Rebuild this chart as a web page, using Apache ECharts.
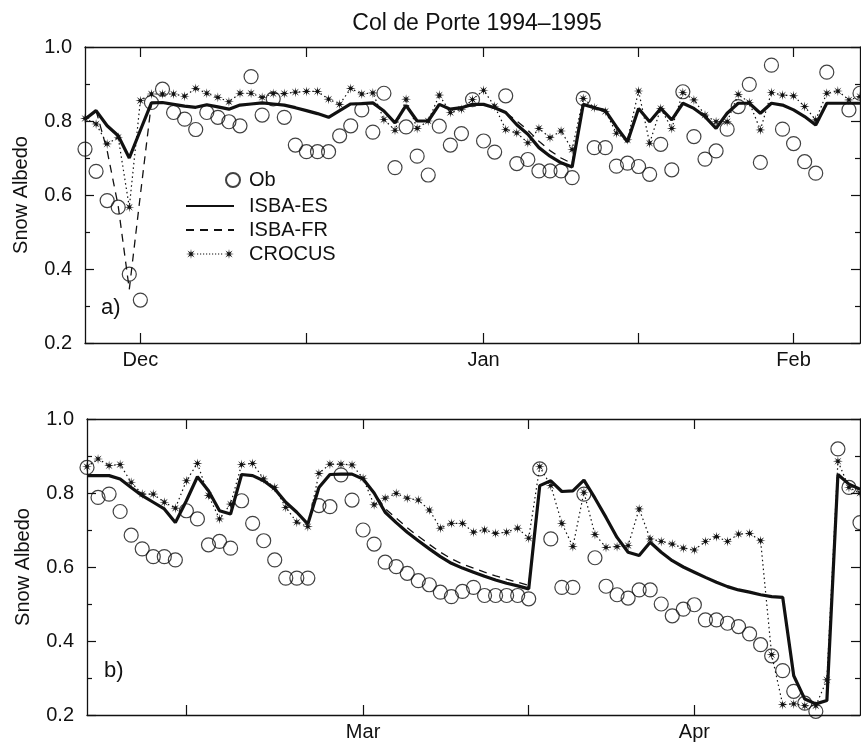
<!DOCTYPE html>
<html>
<head>
<meta charset="utf-8">
<script src="https://cdn.jsdelivr.net/npm/echarts@6/dist/echarts.min.js"></script>
<style>
  html, body { margin: 0; padding: 0; background: #fff; }
  #chart { width: 861px; height: 744px; }
</style>
</head>
<body>
<div id="chart"></div>
<script>
// x is a day index (one observation per day), 0 = left edge of each panel
// panel a) late Nov 1994 - early Feb 1995
const tickA = [5, 20, 36, 50, 64];
const labelPosA = [5, 36, 64];
const labelTextA = ['Dec', 'Jan', 'Feb'];

const obsA = [0.724, 0.664, 0.585, 0.567, 0.386, 0.316, 0.85, 0.886, 0.823, 0.805,
  0.777, 0.823, 0.81, 0.798, 0.787, 0.92, 0.816, 0.86, 0.81, 0.735,
  0.717, 0.717, 0.717, 0.76, 0.787, 0.83, 0.77, 0.875, 0.674, 0.784,
  0.705, 0.654, 0.786, 0.735, 0.766, 0.858, 0.746, 0.716, 0.868, 0.685,
  0.696, 0.665, 0.665, 0.665, 0.647, 0.861, 0.728, 0.728, 0.678, 0.686,
  0.677, 0.656, 0.737, 0.668, 0.879, 0.758, 0.697, 0.719, 0.778, 0.839,
  0.899, 0.688, 0.951, 0.778, 0.739, 0.69, 0.659, 0.932, null, 0.83, 0.875];

const esA = [0.805, 0.828, 0.787, 0.76, 0.70, 0.775, 0.849, 0.85, 0.845, 0.84,
  0.837, 0.844, 0.838, 0.832, 0.843, 0.846, 0.849, 0.846, 0.843, 0.836,
  0.828, 0.82, 0.81, 0.828, 0.846, 0.847, 0.849, 0.827, 0.795, 0.842,
  0.80, 0.80, 0.845, 0.832, 0.836, 0.845, 0.845, 0.836, 0.823, 0.79,
  0.764, 0.728, 0.705, 0.687, 0.676, 0.845, 0.836, 0.828, 0.784, 0.744,
  0.834, 0.798, 0.834, 0.803, 0.848, 0.834, 0.812, 0.78, 0.821, 0.848,
  0.848, 0.821, 0.848, 0.843, 0.83, 0.812, 0.789, 0.848, 0.848, 0.848, 0.848];

const frA = [0.805, 0.828, 0.72, 0.57, 0.345, 0.60, 0.849, 0.85, 0.845, 0.84,
  0.837, 0.844, 0.838, 0.832, 0.843, 0.846, 0.849, 0.846, 0.843, 0.836,
  0.828, 0.82, 0.81, 0.828, 0.846, 0.847, 0.849, 0.827, 0.795, 0.842,
  0.80, 0.80, 0.845, 0.832, 0.836, 0.845, 0.845, 0.836, 0.823, 0.80,
  0.775, 0.745, 0.72, 0.70, 0.685, 0.845, 0.836, 0.828, 0.784, 0.744,
  0.834, 0.798, 0.834, 0.803, 0.848, 0.834, 0.812, 0.78, 0.821, 0.848,
  0.848, 0.821, 0.848, 0.843, 0.83, 0.812, 0.789, 0.848, 0.848, 0.848, 0.848];

const crA = [0.807, 0.792, 0.738, 0.756, 0.567, 0.855, 0.873, 0.873, 0.873, 0.867,
  0.888, 0.875, 0.864, 0.852, 0.875, 0.875, 0.864, 0.874, 0.874, 0.878,
  0.88, 0.88, 0.859, 0.845, 0.888, 0.873, 0.876, 0.804, 0.775, 0.859,
  0.78, 0.80, 0.87, 0.823, 0.832, 0.858, 0.883, 0.84, 0.777, 0.768,
  0.741, 0.78, 0.755, 0.773, 0.723, 0.861, 0.836, 0.826, 0.767, 0.749,
  0.881, 0.74, 0.834, 0.78, 0.877, 0.857, 0.816, 0.798, 0.798, 0.872,
  0.85, 0.776, 0.877, 0.87, 0.868, 0.839, 0.803, 0.875, 0.881, 0.857, 0.866];

// panel b) early Feb - mid Apr 1995
const tickB = [9, 25, 40, 55];
const labelPosB = [25, 55];
const labelTextB = ['Mar', 'Apr'];

const obsB = [0.869, 0.788, 0.797, 0.75, 0.686, 0.649, 0.628, 0.628, 0.619, 0.752,
  0.73, 0.66, 0.669, 0.651, 0.779, 0.718, 0.671, 0.619, 0.57, 0.57,
  0.57, 0.766, 0.763, 0.849, 0.781, 0.70, 0.662, 0.613, 0.601, 0.583,
  0.563, 0.552, 0.532, 0.52, 0.534, 0.545, 0.523, 0.523, 0.523, 0.523,
  0.514, 0.865, 0.676, 0.545, 0.545, 0.797, 0.625, 0.548, 0.525, 0.516,
  0.538, 0.538, 0.50, 0.468, 0.486, 0.498, 0.457, 0.457, 0.448, 0.439,
  0.419, 0.39, 0.36, 0.32, 0.264, 0.232, 0.21, null, 0.919, 0.815, 0.72];

const esB = [0.847, 0.847, 0.847, 0.838, 0.815, 0.793, 0.775, 0.757, 0.72, 0.779,
  0.844, 0.806, 0.752, 0.743, 0.85, 0.847, 0.833, 0.811, 0.775, 0.748,
  0.716, 0.815, 0.85, 0.851, 0.851, 0.838, 0.80, 0.748, 0.72, 0.694,
  0.671, 0.649, 0.628, 0.61, 0.597, 0.586, 0.575, 0.565, 0.556, 0.549,
  0.541, 0.82, 0.833, 0.804, 0.806, 0.835, 0.786, 0.734, 0.68, 0.64,
  0.631, 0.667, 0.64, 0.617, 0.60, 0.586, 0.572, 0.559, 0.547, 0.538,
  0.532, 0.525, 0.52, 0.518, 0.306, 0.243, 0.23, 0.239, 0.85, 0.824, 0.81];

const frB = [0.847, 0.847, 0.847, 0.838, 0.815, 0.793, 0.775, 0.757, 0.72, 0.779,
  0.844, 0.806, 0.752, 0.743, 0.85, 0.847, 0.833, 0.811, 0.775, 0.748,
  0.716, 0.815, 0.85, 0.851, 0.851, 0.838, 0.80, 0.758, 0.732, 0.706,
  0.683, 0.661, 0.64, 0.622, 0.608, 0.597, 0.586, 0.576, 0.567, 0.559,
  0.55, 0.82, 0.833, 0.804, 0.806, 0.835, 0.786, 0.734, 0.68, 0.64,
  0.631, 0.667, 0.64, 0.617, 0.60, 0.586, 0.572, 0.559, 0.547, 0.538,
  0.532, 0.525, 0.52, 0.518, 0.306, 0.243, 0.23, 0.239, 0.85, 0.824, 0.81];

const crB = [0.871, 0.892, 0.874, 0.877, 0.829, 0.797, 0.797, 0.775, 0.759, 0.833,
  0.88, 0.793, 0.73, 0.77, 0.877, 0.88, 0.838, 0.815, 0.761, 0.721,
  0.709, 0.853, 0.878, 0.878, 0.876, 0.84, 0.768, 0.786, 0.799, 0.786,
  0.781, 0.754, 0.705, 0.718, 0.718, 0.694, 0.70, 0.691, 0.694, 0.705,
  0.678, 0.871, 0.82, 0.718, 0.655, 0.802, 0.688, 0.653, 0.655, 0.658,
  0.757, 0.676, 0.669, 0.662, 0.651, 0.646, 0.669, 0.682, 0.669, 0.689,
  0.691, 0.671, 0.363, 0.228, 0.23, 0.225, 0.225, 0.295, 0.886, 0.815, 0.80];

const FONT = 'Liberation Sans';
const BLACK = '#111';

// asterisk-like star path around (cx, cy)
function starPath(cx, cy, R, r) {
  let d = '';
  for (let k = 0; k < 16; k++) {
    const a = Math.PI * k / 8;
    const rad = k % 2 ? r : R;
    d += (k ? 'L' : 'M') + (cx + rad * Math.sin(a)).toFixed(2) + ' ' + (cy - rad * Math.cos(a)).toFixed(2);
  }
  return d + 'Z';
}
const STAR = 'path://' + starPath(10, 10, 10, 3);

// legend icon for CROCUS: star . . . . star
function crocusIcon() {
  let d = starPath(5, 7, 5, 1.5) + starPath(43, 7, 5, 1.5);
  for (let x = 11; x <= 37; x += 3) {
    d += 'M' + x + ' 6.4L' + (x + 1.2) + ' 6.4L' + (x + 1.2) + ' 7.6L' + x + ' 7.6Z';
  }
  return 'path://' + d;
}

const toLine = arr => arr.map((v, i) => [i, v]);
const toPts = arr => arr.map((v, i) => [i, v]).filter(p => p[1] != null);

function xAxes(grid, ticks, labelPos, labelText) {
  const base = {
    type: 'value', gridIndex: grid, min: 0, max: 70,
    axisLine: { show: true, onZero: false, lineStyle: { color: BLACK, width: 1.3 } },
    axisTick: { show: true, inside: true, length: 10, customValues: ticks, lineStyle: { color: BLACK, width: 1.2 } },
    splitLine: { show: false }
  };
  return [
    Object.assign({}, base, {
      position: 'bottom',
      axisLabel: {
        customValues: labelPos, margin: 7, color: BLACK, fontFamily: FONT, fontSize: 20,
        formatter: v => labelText[labelPos.indexOf(v)]
      }
    }),
    Object.assign({}, base, { position: 'top', axisLabel: { show: false } })
  ];
}

function yAxes(grid) {
  const base = {
    type: 'value', gridIndex: grid, min: 0.2, max: 1.0, interval: 0.2,
    axisLine: { show: true, onZero: false, lineStyle: { color: BLACK, width: 1.3 } },
    axisTick: { show: true, inside: true, length: 9, lineStyle: { color: BLACK, width: 1.2 } },
    minorTick: { show: true, splitNumber: 2, length: 5, lineStyle: { color: BLACK, width: 1.2 } },
    splitLine: { show: false }
  };
  return [
    Object.assign({}, base, {
      position: 'left',
      name: 'Snow Albedo', nameLocation: 'middle', nameRotate: 90, nameGap: 54,
      nameTextStyle: { color: BLACK, fontFamily: FONT, fontSize: 20 },
      axisLabel: { margin: 13, color: BLACK, fontFamily: FONT, fontSize: 20, formatter: v => v.toFixed(1) }
    }),
    Object.assign({}, base, { position: 'right', axisLabel: { show: false } })
  ];
}

function panelSeries(xi, yi, obs, es, fr, cr) {
  return [
    {
      name: 'Ob', type: 'scatter', xAxisIndex: xi, yAxisIndex: yi, data: toPts(obs),
      symbol: 'circle', symbolSize: 14, z: 5,
      itemStyle: { color: 'rgba(0,0,0,0)', borderColor: BLACK, borderWidth: 1.2 }
    },
    {
      name: 'ISBA-ES', type: 'line', xAxisIndex: xi, yAxisIndex: yi, data: toLine(es),
      symbol: 'none', z: 4, lineStyle: { color: BLACK, width: 3.2 }, itemStyle: { color: BLACK }
    },
    {
      name: 'ISBA-FR', type: 'line', xAxisIndex: xi, yAxisIndex: yi, data: toLine(fr),
      symbol: 'none', z: 3, lineStyle: { color: BLACK, width: 1.3, type: [8, 6] }, itemStyle: { color: BLACK }
    },
    {
      name: 'CROCUS', type: 'line', xAxisIndex: xi, yAxisIndex: yi, data: toLine(cr),
      symbol: STAR, symbolSize: 10, showAllSymbol: true, z: 3,
      lineStyle: { color: BLACK, width: 1.2, type: [1.5, 3] }, itemStyle: { color: BLACK }
    }
  ];
}

const legendText = { color: BLACK, fontFamily: FONT, fontSize: 20 };
const noSymbol = { color: 'rgba(0,0,0,0)', borderWidth: 0 };

const option = {
  animation: false,
  backgroundColor: '#fff',
  title: {
    text: 'Col de Porte 1994\u20131995', left: 472, top: 7, textAlign: 'center',
    textStyle: { color: BLACK, fontFamily: FONT, fontSize: 23, fontWeight: 'normal' }
  },
  legend: [
    {
      data: ['Ob'], left: 220, top: 165, itemWidth: 14, itemHeight: 14,
      textStyle: Object.assign({ padding: [0, 0, 0, 4] }, legendText)
    },
    {
      data: [
        { name: 'ISBA-ES', itemStyle: noSymbol },
        { name: 'ISBA-FR', itemStyle: noSymbol },
        { name: 'CROCUS', icon: crocusIcon() }
      ],
      orient: 'vertical', left: 180, top: 191,
      itemWidth: 48, itemHeight: 14, itemGap: 4,
      textStyle: Object.assign({ padding: [0, 0, 0, 10] }, legendText)
    }
  ],
  grid: [
    { left: 85, width: 775, top: 47, height: 296 },
    { left: 87, width: 773, top: 419, height: 296 }
  ],
  xAxis: xAxes(0, tickA, labelPosA, labelTextA).concat(xAxes(1, tickB, labelPosB, labelTextB)),
  yAxis: yAxes(0).concat(yAxes(1)),
  graphic: [
    { type: 'text', left: 101, top: 297, style: { text: 'a)', fill: BLACK, font: '22px "Liberation Sans"' } },
    { type: 'text', left: 104, top: 660, style: { text: 'b)', fill: BLACK, font: '22px "Liberation Sans"' } }
  ],
  series: panelSeries(0, 0, obsA, esA, frA, crA).concat(panelSeries(2, 2, obsB, esB, frB, crB))
};

echarts.init(document.getElementById('chart')).setOption(option);
</script>
</body>
</html>
